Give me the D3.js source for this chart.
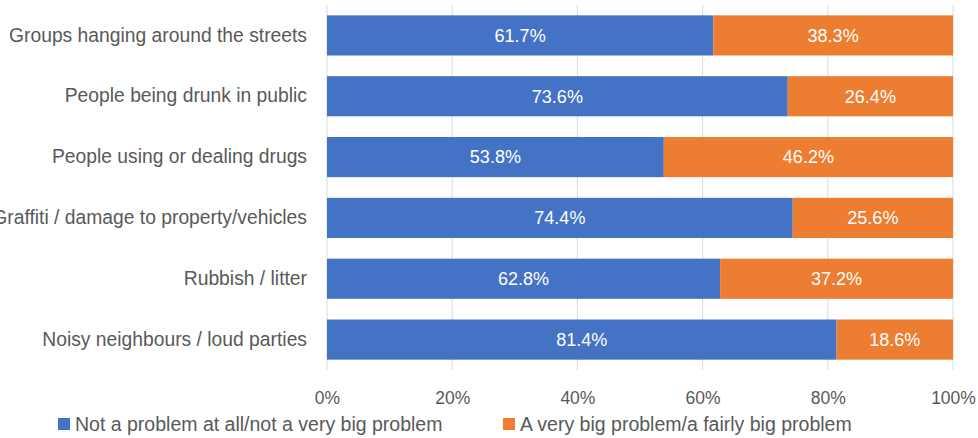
<!DOCTYPE html>
<html>
<head>
<meta charset="utf-8">
<script src="https://cdn.jsdelivr.net/npm/d3@7.9.0/dist/d3.min.js"></script>
<style>
  body { margin: 0; background: #fff; overflow: hidden; }
  svg { display: block; font-family: "Liberation Sans", Arial, sans-serif; }
</style>
</head>
<body>
<svg id="chart" width="978" height="438"></svg>
<script>
// Chart data
const categories = [
  "Groups hanging around the streets",
  "People being drunk in public",
  "People using or dealing drugs",
  "Graffiti / damage to property/vehicles",
  "Rubbish / litter",
  "Noisy neighbours / loud parties"
];
const notProblem = [61.7, 73.6, 53.8, 74.4, 62.8, 81.4];
const bigProblem = [38.3, 26.4, 46.2, 25.6, 37.2, 18.6];
const seriesNames = [
  "Not a problem at all/not a very big problem",
  "A very big problem/a fairly big problem"
];
const xTicks = [0, 20, 40, 60, 80, 100];

const colors = ["#4472C4", "#ED7D31"];
const margin = { top: 5, right: 25, bottom: 68, left: 327 };
const width = 978, height = 438;

const svg = d3.select("#chart");
const x = d3.scaleLinear().domain([0, 100]).range([margin.left, width - margin.right]);
const y = d3.scaleBand().domain(categories).range([margin.top, height - margin.bottom]).paddingInner(0.34).paddingOuter(0.17);

// Gridlines
svg.append("g")
  .selectAll("line")
  .data(xTicks)
  .join("line")
  .attr("x1", d => x(d)).attr("x2", d => x(d))
  .attr("y1", margin.top).attr("y2", height - margin.bottom)
  .attr("stroke", "#d9d9d9").attr("stroke-width", 1);

// Stacked data
const rows = categories.map((c, i) => ({ cat: c, a: notProblem[i], b: bigProblem[i] }));
const stack = d3.stack().keys(["a", "b"])(rows);

const layers = svg.append("g").selectAll("g")
  .data(stack)
  .join("g")
  .attr("fill", (d, i) => colors[i]);

layers.selectAll("rect")
  .data(d => d)
  .join("rect")
  .attr("x", d => x(d[0]))
  .attr("width", d => x(d[1]) - x(d[0]))
  .attr("y", d => y(d.data.cat))
  .attr("height", y.bandwidth());

// Value labels
layers.selectAll("text")
  .data(d => d)
  .join("text")
  .attr("x", d => (x(d[0]) + x(d[1])) / 2)
  .attr("y", d => y(d.data.cat) + y.bandwidth() / 2)
  .attr("dy", "0.35em")
  .attr("text-anchor", "middle")
  .attr("fill", "#fff")
  .attr("font-size", 18)
  .text(d => (d[1] - d[0]).toFixed(1) + "%");

// Category axis
const yAxis = svg.append("g")
  .attr("transform", `translate(${margin.left},0)`)
  .call(d3.axisLeft(y).tickSize(0).tickPadding(20));
yAxis.select(".domain").remove();
yAxis.selectAll("text").attr("font-size", 19.3).attr("fill", "#595959").style("font-family", "inherit");

// Value axis
const xAxis = svg.append("g")
  .attr("transform", `translate(0,${height - margin.bottom})`)
  .call(d3.axisBottom(x).tickValues(xTicks).tickFormat(d => d + "%").tickSize(0).tickPadding(22));
xAxis.select(".domain").remove();
xAxis.selectAll("text").attr("font-size", 17.5).attr("fill", "#595959").style("font-family", "inherit");

// Legend
const legendX = [58, 503];
const legend = svg.append("g").selectAll("g")
  .data(seriesNames)
  .join("g")
  .attr("transform", (d, i) => `translate(${legendX[i]},424)`);
legend.append("rect")
  .attr("x", 0).attr("y", -6).attr("width", 12).attr("height", 12)
  .attr("fill", (d, i) => colors[i]);
legend.append("text")
  .attr("x", 17).attr("dy", "0.35em")
  .attr("font-size", 19.5).attr("fill", "#595959")
  .text(d => d);
</script>
</body>
</html>
